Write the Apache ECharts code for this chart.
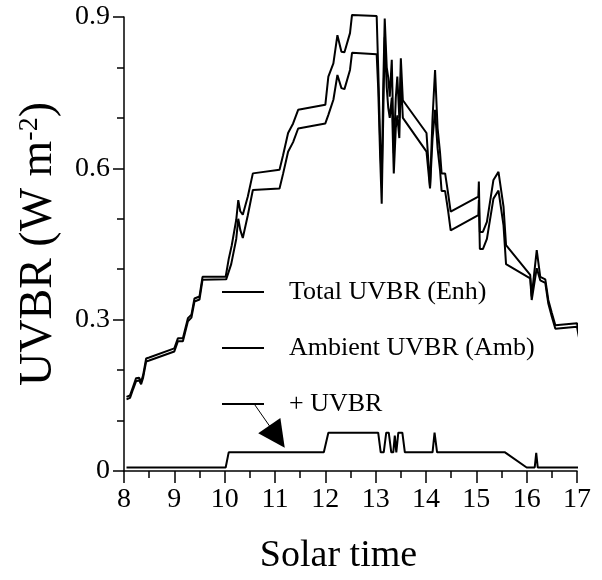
<!DOCTYPE html>
<html>
<head>
<meta charset="utf-8">
<script src="https://cdn.jsdelivr.net/npm/echarts@6/dist/echarts.min.js"></script>
<style>
  html, body { margin: 0; padding: 0; background: #fff; }
  #chart { width: 602px; height: 580px; }
</style>
</head>
<body>
<div id="chart"></div>
<script>
// series data: [solar time, UVBR W m-2]
var totalEnh = [
  [8.05, 0.147], [8.12, 0.150], [8.18, 0.167], [8.24, 0.184], [8.30, 0.185], [8.34, 0.177],
  [8.38, 0.190], [8.44, 0.223], [8.50, 0.225], [9.00, 0.243], [9.07, 0.263], [9.17, 0.263],
  [9.27, 0.303], [9.34, 0.310], [9.40, 0.342], [9.50, 0.346], [9.56, 0.385], [10.02, 0.385],
  [10.08, 0.420], [10.14, 0.447], [10.23, 0.498], [10.27, 0.537], [10.31, 0.515], [10.36, 0.508],
  [10.46, 0.544], [10.56, 0.590], [11.09, 0.597], [11.16, 0.626], [11.26, 0.670], [11.36, 0.689],
  [11.46, 0.716], [12.00, 0.726], [12.06, 0.782], [12.16, 0.808], [12.24, 0.864], [12.32, 0.831],
  [12.38, 0.830], [12.49, 0.868], [12.53, 0.904], [13.02, 0.902], [13.05, 0.800], [13.09, 0.650],
  [13.12, 0.570], [13.15, 0.760], [13.18, 0.897], [13.22, 0.800], [13.25, 0.780], [13.28, 0.742],
  [13.32, 0.815], [13.36, 0.630], [13.40, 0.740], [13.43, 0.782], [13.47, 0.700], [13.50, 0.818],
  [13.54, 0.735], [14.01, 0.670], [14.08, 0.564], [14.13, 0.700], [14.18, 0.795], [14.23, 0.680],
  [14.28, 0.630], [14.31, 0.590], [14.38, 0.590], [14.44, 0.550], [14.49, 0.514], [15.04, 0.544],
  [15.05, 0.574], [15.07, 0.474], [15.13, 0.474], [15.21, 0.494], [15.34, 0.577], [15.44, 0.593],
  [15.54, 0.524], [15.59, 0.448], [16.07, 0.389], [16.10, 0.346], [16.20, 0.438], [16.27, 0.385],
  [16.37, 0.380], [16.43, 0.339], [16.50, 0.313], [16.57, 0.289], [17.00, 0.293], [17.06, 0.260]
];
var ambientAmb = [
  [8.05, 0.142], [8.12, 0.145], [8.18, 0.162], [8.24, 0.178], [8.30, 0.180], [8.34, 0.172],
  [8.38, 0.185], [8.44, 0.217], [8.50, 0.219], [9.00, 0.237], [9.07, 0.257], [9.17, 0.257],
  [9.27, 0.297], [9.34, 0.304], [9.40, 0.336], [9.50, 0.340], [9.56, 0.379], [10.03, 0.380],
  [10.13, 0.410], [10.23, 0.460], [10.27, 0.500], [10.31, 0.478], [10.36, 0.462], [10.46, 0.507],
  [10.56, 0.557], [11.09, 0.560], [11.16, 0.589], [11.26, 0.633], [11.36, 0.652], [11.46, 0.679],
  [12.00, 0.689], [12.06, 0.706], [12.16, 0.736], [12.24, 0.785], [12.32, 0.759], [12.38, 0.757],
  [12.49, 0.795], [12.53, 0.829], [13.02, 0.826], [13.05, 0.760], [13.09, 0.620], [13.12, 0.530],
  [13.15, 0.700], [13.18, 0.860], [13.22, 0.760], [13.25, 0.720], [13.28, 0.700], [13.32, 0.740],
  [13.36, 0.590], [13.40, 0.680], [13.43, 0.705], [13.47, 0.660], [13.50, 0.780], [13.54, 0.700],
  [14.01, 0.633], [14.08, 0.560], [14.13, 0.660], [14.18, 0.716], [14.23, 0.640], [14.28, 0.595],
  [14.31, 0.555], [14.38, 0.555], [14.44, 0.515], [14.49, 0.477], [15.04, 0.507], [15.05, 0.537],
  [15.07, 0.440], [15.13, 0.440], [15.21, 0.460], [15.34, 0.540], [15.44, 0.556], [15.54, 0.487],
  [15.59, 0.410], [16.07, 0.382], [16.10, 0.339], [16.20, 0.402], [16.27, 0.378], [16.37, 0.373],
  [16.43, 0.332], [16.50, 0.306], [16.57, 0.282], [17.00, 0.286], [17.06, 0.253]
];
var plusUVBR = [
  [8.05, 0.007], [10.02, 0.007], [10.08, 0.037], [11.97, 0.037], [12.06, 0.076], [13.05, 0.076],
  [13.10, 0.037], [13.16, 0.037], [13.21, 0.076], [13.26, 0.076], [13.31, 0.037], [13.35, 0.037],
  [13.38, 0.070], [13.41, 0.037], [13.45, 0.076], [13.53, 0.076], [13.58, 0.037], [14.13, 0.037],
  [14.17, 0.076], [14.22, 0.037], [15.57, 0.037], [16.00, 0.007], [16.16, 0.007], [16.19, 0.036],
  [16.22, 0.007], [17.06, 0.007]
];
var seriesNames = ['Total UVBR (Enh)', 'Ambient UVBR (Amb)', '+ UVBR'];
// arrow from the legend sample down to the + UVBR trace
var arrowFrom = [10.60, 0.131];
var arrowTo = [11.04, 0.068];

var font = 'Liberation Serif';
var myChart = echarts.init(document.getElementById('chart'));

function lineSeries(name, data) {
  return {
    name: name,
    type: 'line',
    data: data,
    symbol: 'none',
    clip: false,
    animation: false,
    lineStyle: { color: '#000', width: 2 },
    itemStyle: { color: '#000' }
  };
}

var plus = lineSeries(seriesNames[2], plusUVBR);
plus.markLine = {
  silent: true,
  animation: false,
  symbol: ['none', 'triangle'],
  symbolSize: 27,
  label: { show: false },
  lineStyle: { color: '#000', width: 1, type: 'solid' },
  itemStyle: { color: '#000' },
  data: [[{ coord: arrowFrom }, { coord: arrowTo }]]
};

var option = {
  backgroundColor: '#fff',
  animation: false,
  grid: { left: 124, right: 25, top: 17, bottom: 109 },
  legend: {
    orient: 'vertical',
    left: 217,
    top: 272,
    itemGap: 26,
    icon: 'rect',
    itemWidth: 42,
    itemHeight: 2,
    data: seriesNames,
    textStyle: { fontFamily: font, fontSize: 26, color: '#000', lineHeight: 30, padding: [0, 0, 0, 20] }
  },
  xAxis: {
    type: 'value',
    min: 8,
    max: 17,
    interval: 1,
    name: 'Solar time',
    nameLocation: 'middle',
    nameGap: 66,
    nameTextStyle: { fontFamily: font, fontSize: 38, color: '#000', padding: [0, 24, 0, 0] },
    axisLine: { lineStyle: { color: '#000', width: 1.5 } },
    axisTick: { length: 12, lineStyle: { color: '#000', width: 1.5 } },
    minorTick: { show: true, splitNumber: 2, length: 7, lineStyle: { color: '#000', width: 1.5 } },
    axisLabel: { fontFamily: font, fontSize: 28, color: '#000', margin: 15 },
    splitLine: { show: false }
  },
  yAxis: {
    type: 'value',
    min: 0,
    max: 0.9,
    interval: 0.3,
    name: '{a|UVBR (W m}{b|-2}{a|)}',
    nameLocation: 'middle',
    nameRotate: 90,
    nameGap: 62,
    nameTextStyle: {
      rich: {
        a: { fontFamily: font, fontSize: 46, color: '#000' },
        b: { fontFamily: font, fontSize: 28, color: '#000', verticalAlign: 'top', padding: [0, 0, 16, 0] }
      }
    },
    axisLine: { lineStyle: { color: '#000', width: 1.5 } },
    axisTick: { length: 11, lineStyle: { color: '#000', width: 1.5 } },
    minorTick: { show: true, splitNumber: 3, length: 7, lineStyle: { color: '#000', width: 1.5 } },
    axisLabel: { fontFamily: font, fontSize: 28, color: '#000', margin: 14 },
    splitLine: { show: false }
  },
  series: [
    lineSeries(seriesNames[0], totalEnh),
    lineSeries(seriesNames[1], ambientAmb),
    plus
  ]
};

myChart.setOption(option);
window.addEventListener('resize', function () {
  myChart.resize();
});
</script>
</body>
</html>
